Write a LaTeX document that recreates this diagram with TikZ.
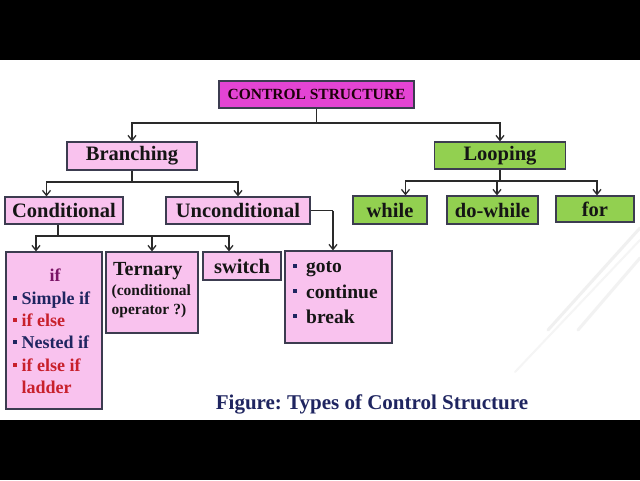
\documentclass[tikz,border=0pt]{standalone}
\usepackage{fontspec}
\setmainfont{Liberation Serif}
\usetikzlibrary{arrows.meta}
\definecolor{magbox}{HTML}{E444D4}
\definecolor{pinkbox}{HTML}{F9C2EE}
\definecolor{greenbox}{HTML}{92D050}
\definecolor{edgec}{HTML}{3C3C50}
\definecolor{navy}{HTML}{1F2560}
\definecolor{redt}{HTML}{C8202C}
\definecolor{purp}{HTML}{7A1466}
\definecolor{linec}{HTML}{2A2A2A}
\definecolor{txt}{HTML}{151515}
\frenchspacing
\begin{document}
\begin{tikzpicture}[x=1pt,y=-1pt,
 box/.style={draw=edgec, line width=1.2pt, inner sep=0pt, text=txt, font=\fontsize{20.5}{24}\selectfont\bfseries},
 pbox/.style={box, fill=pinkbox},
 gbox/.style={box, fill=greenbox},
 conn/.style={draw=linec, line width=1.3pt},
 arr/.style={conn, -{Straight Barb[length=5pt,width=8pt,line width=1.3pt]}},
 lbl/.style={anchor=base west, inner sep=0pt, font=\fontsize{18}{22}\selectfont\bfseries},
 bul/.style={anchor=base west, inner sep=0pt, font=\fontsize{19.5}{22}\selectfont\bfseries, text=txt},
]
\fill[black] (0,0) rectangle (640,60);
\fill[white] (0,60) rectangle (640,420);
\fill[black] (0,420) rectangle (640,480);
\useasboundingbox (0,0) rectangle (640,480);
% faint decorative streaks
\draw[gray!12, line width=3pt, line cap=round] (640,228) -- (548,330);
\draw[gray!10, line width=3pt, line cap=round] (640,258) -- (578,330);
\draw[gray!8, line width=2pt, line cap=round] (640,240) -- (515,372);

% boxes
\node[box, fill=magbox, minimum width=195pt, minimum height=27pt, font=\fontsize{15.5}{18}\selectfont\bfseries, text=black!85!purple] (cs) at (316.5,94.5) {CONTROL STRUCTURE};
\node[pbox, minimum width=130pt, minimum height=28pt] (br) at (132,156) {Branching};
\node[gbox, minimum width=131pt, minimum height=27pt] (lp) at (500,155.5) {Looping};
\node[pbox, minimum width=118pt, minimum height=27pt] (cond) at (64,210.5) {Conditional};
\node[pbox, minimum width=144pt, minimum height=27pt] (unc) at (238,210.5) {Unconditional};
\node[gbox, minimum width=74pt, minimum height=28pt] (wh) at (390,210) {while};
\node[gbox, minimum width=91pt, minimum height=28pt] (dw) at (492.5,210) {do-while};
\node[gbox, minimum width=78pt, minimum height=26pt] (fr) at (595,209) {for};
\node[pbox, minimum width=96pt, minimum height=157pt] (ifb) at (54,330.5) {};
\node[pbox, minimum width=92pt, minimum height=81pt] (ter) at (152,292.5) {};
\node[pbox, minimum width=78pt, minimum height=28pt] (sw) at (242,266) {switch};
\node[pbox, minimum width=107pt, minimum height=92pt] (gt) at (338.5,297) {};

% junctions
\coordinate (j1) at (316.5,123);
\coordinate (j2) at (132,182);
\coordinate (j3) at (500,181);
\coordinate (j4) at (58,236);
\coordinate (j5) at (333,210.5);

\draw[conn] (cs.south) -- (j1);
\draw[arr] (j1) -| (br.north);
\draw[arr] (j1) -| (lp.north);

\draw[conn] (br.south) -- (j2);
\draw[arr] (j2) -| (cond.north -| 46.5,0);
\draw[arr] (j2) -| (unc.north);

\draw[conn] (lp.south) -- (j3);
\draw[arr] (j3) -| (wh.north -| 405.5,0);
\draw[arr] (j3) -| (dw.north -| 497,0);
\draw[arr] (j3) -| (fr.north -| 597,0);

\draw[conn] (cond.south -| j4) -- (j4);
\draw[arr] (j4) -| (ifb.north -| 36,0);
\draw[arr] (j4) -| (ter.north);
\draw[arr] (j4) -| (sw.north -| 229,0);

\draw[conn] (unc.east) -- (j5);
\draw[arr] (j5) -- (gt.north -| j5);

% if box content
\node[anchor=base, inner sep=0pt, font=\fontsize{18}{22}\selectfont\bfseries, text=purp] (tif) at (55,281) {if};
\fill[navy] (12.5,295.5) rectangle (17,300);
\node[lbl, text=navy] (t1) at (21.5,304) {Simple if};
\fill[redt] (12.5,317.5) rectangle (17,322);
\node[lbl, text=redt] (t2) at (21.5,326) {if else};
\fill[navy] (12.5,339.5) rectangle (17,344);
\node[lbl, text=navy] (t3) at (21.5,348) {Nested if};
\fill[redt] (12.5,362.5) rectangle (17,367);
\node[lbl, text=redt] (t4) at (21.5,371) {if else if};
\node[lbl, text=redt] (t5) at (21.5,393) {ladder};

% ternary content
\node[anchor=base west, inner sep=0pt, font=\fontsize{20}{24}\selectfont\bfseries, text=txt] (tt) at (113,275) {Ternary};
\node[anchor=base west, inner sep=0pt, font=\fontsize{15.5}{18}\selectfont\bfseries, text=txt] (tc1) at (111.5,295) {(conditional};
\node[anchor=base west, inner sep=0pt, font=\fontsize{15.5}{18}\selectfont\bfseries, text=txt] (tc2) at (111.5,314) {operator ?)};

% goto content
\fill[navy] (292.5,263.5) rectangle (297,268);
\node[bul] (g1) at (306,272) {goto};
\fill[navy] (292.5,288.5) rectangle (297,293);
\node[bul] (g2) at (306,298) {continue};
\fill[navy] (292.5,313.5) rectangle (297,318);
\node[bul] (g3) at (306,323) {break};

% caption
\node[anchor=base, inner sep=0pt, font=\fontsize{21}{24}\selectfont\bfseries, text=navy] (cap) at (372,409) {Figure: Types of Control Structure};
\end{tikzpicture}
\end{document}
